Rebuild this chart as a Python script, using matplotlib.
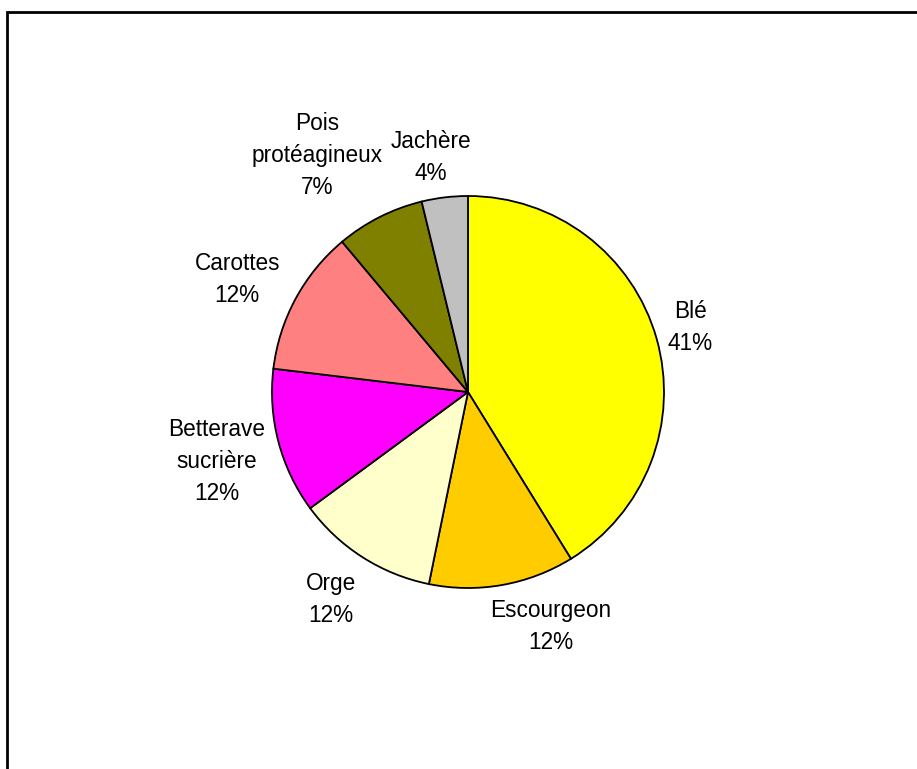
import numpy as np
import matplotlib
matplotlib.use("Agg")
import matplotlib.pyplot as plt
from matplotlib.patches import Rectangle

# Surfaces par culture (%)
cultures = ["Blé", "Escourgeon", "Orge", "Betterave\nsucrière", "Carottes",
            "Pois\nprotéagineux", "Jachère"]
parts = [41.2, 12.0, 11.7, 12.0, 12.0, 7.3, 3.8]
couleurs = ["#FFFF00", "#FFCC00", "#FFFFCC", "#FF00FF", "#FF8080",
            "#808000", "#C0C0C0"]

# placement des étiquettes : distance au centre (en rayons) et décalage angulaire
label_dist = [1.18, 1.27, 1.27, 1.33, 1.31, 1.43, 1.21]
label_shift = [0.3, 9.3, -0.8, 0.8, 2.4, 5.8, 2.2]

plt.rcParams["font.family"] = ["Liberation Sans", "DejaVu Sans"]

fig = plt.figure(figsize=(9.17, 7.69), dpi=100)
W, H = 917, 769
cx, cy, R = 468, 769 - 392, 196
span = 1.8 * R
ax = fig.add_axes([(cx - span) / W, (cy - span) / H, 2 * span / W, 2 * span / H])

wedges, _ = ax.pie(parts, colors=couleurs, startangle=90, counterclock=False,
                   wedgeprops=dict(edgecolor="black", linewidth=1.3))
ax.set_xlim(-1.8, 1.8)
ax.set_ylim(-1.8, 1.8)
ax.set_aspect("equal")
ax.axis("off")

total = sum(parts)
for w, nom, val, d, s in zip(wedges, cultures, parts, label_dist, label_shift):
    ang = np.deg2rad((w.theta1 + w.theta2) / 2 + s)
    ax.text(d * np.cos(ang), d * np.sin(ang), f"{nom}\n{val / total * 100:.0f}%",
            ha="center", va="center", fontsize=16.3, linespacing=1.5)

# cadre du graphique (coupé à droite et en bas)
fig.patches.append(Rectangle((7 / W, -0.1), 1.0, 1 - 12 / H + 0.1,
                             transform=fig.transFigure, fill=False,
                             edgecolor="black", linewidth=2))

fig.savefig("out.png", dpi=100)
